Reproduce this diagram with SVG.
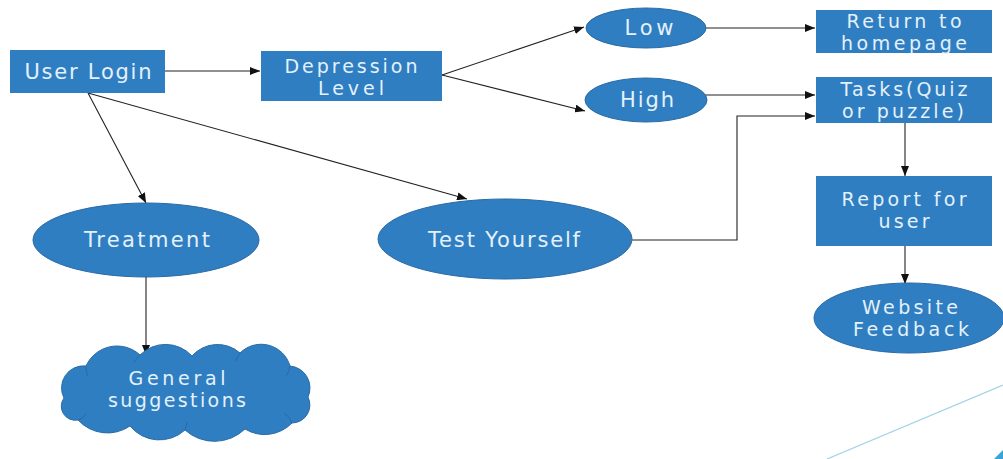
<svg xmlns="http://www.w3.org/2000/svg" width="1003" height="459" viewBox="0 0 1003 459">
<defs>
<marker id="ah" markerUnits="userSpaceOnUse" markerWidth="10" markerHeight="8" refX="10" refY="4" orient="auto">
<path d="M0,0 L10,4 L0,8 z" fill="#111"/>
</marker>
<style>
.box{fill:#2f7ec2;}
.ell{fill:#2f7ec2;stroke:#2a6aa5;stroke-width:1;}
.t{font-family:"DejaVu Sans",Verdana,sans-serif;font-size:21px;fill:#e4f1fb;text-anchor:middle;}
.t2{font-family:"DejaVu Sans",Verdana,sans-serif;font-size:19px;fill:#e4f1fb;text-anchor:middle;}
.c{fill:none;stroke:#222;stroke-width:1.1;marker-end:url(#ah);}
</style>
</defs>
<rect width="1003" height="459" fill="#fff"/>
<g id="decor">
<line x1="827" y1="459" x2="1003" y2="385" stroke="#9fd3e6" stroke-width="1.2"/>
<polygon points="994,459 1003,450 1003,459" fill="#3aa3d6"/>
</g>
<g id="connectors">
<path class="c" d="M165,71 L260,71"/>
<path class="c" d="M442,75 L584,27"/>
<path class="c" d="M442,75 L585,111"/>
<path class="c" d="M695,28 L815,28"/>
<path class="c" d="M687,95 L815,95"/>
<path class="c" d="M632,240 L737,240 L737,116 L815,116"/>
<path class="c" d="M88,93 L146,203"/>
<path class="c" d="M88,93 L467,199"/>
<path class="c" d="M146,277 L146,355"/>
<path class="c" d="M905,123 L905,176"/>
<path class="c" d="M905,246 L905,284"/>
</g>
<g id="user-login">
<rect class="box" x="10" y="50" width="155" height="43"/>
<text class="t" x="88" y="79" textLength="127" lengthAdjust="spacing">User Login</text>
</g>
<g id="depression-level">
<rect class="box" x="261" y="51" width="181" height="50"/>
<text class="t2" x="351" y="72.5" textLength="133" lengthAdjust="spacing">Depression</text>
<text class="t2" x="351" y="95" textLength="66" lengthAdjust="spacing">Level</text>
</g>
<g id="low">
<ellipse class="ell" cx="646" cy="28" rx="60" ry="20"/>
<text class="t" x="649" y="35" textLength="49" lengthAdjust="spacing">Low</text>
</g>
<g id="high">
<ellipse class="ell" cx="646" cy="100" rx="61" ry="22"/>
<text class="t" x="647" y="107" textLength="54" lengthAdjust="spacing">High</text>
</g>
<g id="return-homepage">
<rect class="box" x="816" y="10" width="176" height="43"/>
<text class="t2" x="904" y="27.5" textLength="115" lengthAdjust="spacing">Return to</text>
<text class="t2" x="904" y="50" textLength="126" lengthAdjust="spacing">homepage</text>
</g>
<g id="tasks">
<rect class="box" x="816" y="77" width="176" height="46"/>
<text class="t2" x="904" y="95.5" textLength="127" lengthAdjust="spacing">Tasks(Quiz</text>
<text class="t2" x="903" y="118" textLength="122" lengthAdjust="spacing">or puzzle)</text>
</g>
<g id="report">
<rect class="box" x="816" y="176" width="176" height="70"/>
<text class="t2" x="904" y="205.5" textLength="125" lengthAdjust="spacing">Report for</text>
<text class="t2" x="904" y="228" textLength="51" lengthAdjust="spacing">user</text>
</g>
<g id="website-feedback">
<ellipse class="ell" cx="909" cy="318" rx="95" ry="35"/>
<text class="t2" x="910" y="313.5" textLength="96" lengthAdjust="spacing">Website</text>
<text class="t2" x="911" y="336" textLength="116" lengthAdjust="spacing">Feedback</text>
</g>
<g id="treatment">
<ellipse class="ell" cx="146" cy="240" rx="113" ry="37"/>
<text class="t" x="147" y="247" textLength="126" lengthAdjust="spacing">Treatment</text>
</g>
<g id="test-yourself">
<ellipse class="ell" cx="505" cy="239" rx="127" ry="40"/>
<text class="t" x="504" y="247" textLength="152" lengthAdjust="spacing">Test Yourself</text>
</g>
<g id="general-suggestions">
<path class="ell" d="M64,398 A22,22 0 0 1 86,366 A34,34 0 0 1 140,355 A36,36 0 0 1 192,356 A34,34 0 0 1 240,353 A30,30 0 0 1 290,366 A22,22 0 0 1 308,397 A18,18 0 0 1 292,423 A38,38 0 0 1 245,429 A44,44 0 0 1 185,430 A38,38 0 0 1 130,426 A40,40 0 0 1 78,420 A14,14 0 0 1 64,398 Z"/>
<path d="M86,366 a18,18 0 0 0 2,10 M140,355 a20,20 0 0 0 -6,8 M240,353 a20,20 0 0 0 -4,8 M290,366 a20,20 0 0 1 -4,10 M292,423 a20,20 0 0 0 -8,-10 M185,430 a20,20 0 0 0 2,-8 M78,420 a14,14 0 0 0 8,-6" fill="none" stroke="#2a6aa5" stroke-width="1"/>
<text class="t2" x="177" y="384.5" textLength="97" lengthAdjust="spacing">General</text>
<text class="t2" x="177" y="407" textLength="138" lengthAdjust="spacing">suggestions</text>
</g>
</svg>
